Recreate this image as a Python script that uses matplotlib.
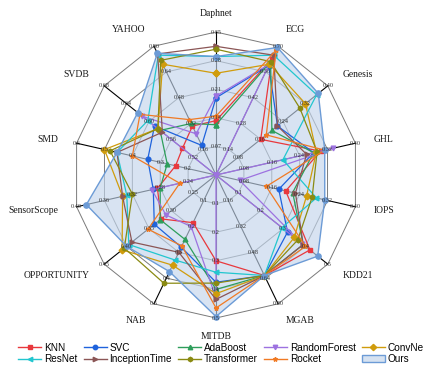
import numpy as np
import matplotlib

matplotlib.use("Agg")
import matplotlib.pyplot as plt  # noqa: E402
from matplotlib.lines import Line2D  # noqa: E402
from matplotlib.patches import Patch  # noqa: E402

# datasets clockwise from the top, each with its own radial scale
DATASETS = ["Daphnet", "ECG", "Genesis", "GHL", "IOPS", "KDD21", "MGAB",
            "MITDB", "NAB", "OPPORTUNITY", "SensorScope", "SMD", "SVDB", "YAHOO"]
AXIS_LO = [0, 0, 0, 0, 0, 0, 0, 0, 0, 0.20, 0.20, 0.10, 0.48, 0]
AXIS_HI = [0.35, 0.70, 0.40, 0.40, 0.40, 0.5, 0.80, 0.5, 0.5, 0.45, 0.40, 0.6, 0.68, 0.80]
TICK_DEC = [2, 2, 2, 2, 2, 1, 2, 1, 1, 2, 2, 1, 2, 2]

# scores per method, same order as DATASETS
KNN = [0.133, 0.630, 0.160, 0.300, 0.200, 0.420, 0.624, 0.300, 0.185, 0.323, 0.284, 0.245, 0.540, 0.304]
SVC = [0.189, 0.595, 0.220, 0.280, 0.180, 0.320, 0.624, 0.375, 0.280, 0.338, 0.290, 0.345, 0.590, 0.184]
ADABOOST = [0.123, 0.616, 0.200, 0.280, 0.220, 0.390, 0.624, 0.400, 0.250, 0.325, 0.280, 0.275, 0.580, 0.320]
RANDOMFOREST = [0.193, 0.602, 0.0, 0.336, 0.068, 0.385, 0.0, 0.430, 0.200, 0.312, 0.292, 0.10, 0.612, 0.256]
CONVNET = [0.249, 0.602, 0.320, 0.288, 0.260, 0.350, 0.624, 0.415, 0.350, 0.410, 0.334, 0.500, 0.584, 0.688]
RESNET = [0.290, 0.651, 0.360, 0.192, 0.288, 0.295, 0.624, 0.340, 0.330, 0.395, 0.328, 0.455, 0.602, 0.744]
INCEPTIONTIME = [0.315, 0.651, 0.220, 0.260, 0.228, 0.390, 0.624, 0.435, 0.300, 0.388, 0.334, 0.455, 0.576, 0.752]
TRANSFORMER = [0.308, 0.616, 0.300, 0.290, 0.276, 0.365, 0.624, 0.378, 0.420, 0.405, 0.320, 0.480, 0.584, 0.712]
ROCKET = [0.144, 0.679, 0.180, 0.312, 0.144, 0.400, 0.624, 0.465, 0.275, 0.352, 0.252, 0.400, 0.616, 0.344]
OURS = [0.290, 0.693, 0.366, 0.312, 0.312, 0.455, 0.624, 0.495, 0.375, 0.400, 0.386, 0.455, 0.620, 0.756]

METHODS = [
    ("KNN", KNN, "#e8383d", "s"),
    ("SVC", SVC, "#1f63dc", "o"),
    ("AdaBoost", ADABOOST, "#2e9e5b", "^"),
    ("RandomForest", RANDOMFOREST, "#9d72e0", "v"),
    ("ConvNet", CONVNET, "#d09c0c", "D"),
    ("ResNet", RESNET, "#22c6cf", "<"),
    ("InceptionTime", INCEPTIONTIME, "#8b5656", ">"),
    ("Transformer", TRANSFORMER, "#8a8a12", "h"),
    ("Rocket", ROCKET, "#f07a24", "*"),
]
OURS_EDGE = "#6c9bd6"
OURS_FILL = "#c3d5ec"


def norm(vals):
    lo = np.array(AXIS_LO)
    hi = np.array(AXIS_HI)
    return np.clip((np.array(vals) - lo) / (hi - lo), 0, 1)


def closed(a):
    return np.append(a, a[0])


fig = plt.figure(figsize=(4.23, 3.83), dpi=100)
ax = fig.add_axes([0.1726, 0.1697, 0.6761, 0.7467], projection="polar")
ax.set_theta_offset(np.pi / 2)
ax.set_theta_direction(-1)
ax.set_ylim(0, 1)
ax.grid(False)
ax.set_xticks([])
ax.set_yticks([])
ax.spines["polar"].set_visible(False)
ax.patch.set_visible(False)

n = len(DATASETS)
theta = np.arange(n) * 2 * np.pi / n
th_c = closed(theta)

# polygon rings and black spokes
for lev in (0.2, 0.4, 0.6, 0.8, 1.0):
    ax.plot(th_c, np.full(n + 1, lev), color="#7a7a7a", lw=0.7, zorder=1, clip_on=False)
for t in theta:
    ax.plot([t, t], [0, 1], color="black", lw=0.8, zorder=1, clip_on=False)

# per-axis tick labels
for i, t in enumerate(theta):
    ticks = np.linspace(AXIS_LO[i], AXIS_HI[i], 6)[1:]
    for k, tv in enumerate(ticks):
        ax.text(t, 0.2 * (k + 1), f"{tv:.{TICK_DEC[i]}f}", fontsize=4.5,
                family="Liberation Serif", color="#333333", ha="center", va="center", zorder=6)

# dataset names
for i, t in enumerate(theta):
    ang = np.degrees(np.pi / 2 - t) % 360
    if min(abs(ang - 90), abs(ang - 270)) < 5:
        ha = "center"
    elif 90 < ang < 270:
        ha = "right"
    else:
        ha = "left"
    ax.text(t, 1.13, DATASETS[i], fontsize=6.9, family="Liberation Serif",
            ha=ha, va="center", color="#1a1a1a")

# our method, filled
r_ours = closed(norm(OURS))
ax.fill(th_c, r_ours, color=OURS_FILL, alpha=0.65, zorder=2, lw=0)
ax.plot(th_c, r_ours, color=OURS_EDGE, lw=1.0, marker="o", ms=3.8, zorder=4, clip_on=False)

for name, vals, col, mk in METHODS:
    ax.plot(th_c, closed(norm(vals)), color=col, lw=0.9, marker=mk, ms=3.4,
            zorder=3, clip_on=False)

handles = {name: Line2D([0], [0], color=col, lw=1.0, marker=mk, ms=3.2, label=name)
           for name, _, col, mk in METHODS}
handles["Ours"] = Patch(facecolor="#d6e2f1", edgecolor=OURS_EDGE, lw=1.0, label="Ours")
order = ["KNN", "ResNet", "SVC", "InceptionTime", "AdaBoost", "Transformer",
         "RandomForest", "Rocket", "ConvNet", "Ours"]
fig.legend(handles=[handles[k] for k in order], loc="upper left",
           bbox_to_anchor=(0.043, 0.105), ncol=5, frameon=False,
           prop={"family": "Liberation Sans", "size": 7.2},
           handlelength=2.3, handletextpad=0.3, columnspacing=0.6, labelspacing=0.15,
           borderaxespad=0, borderpad=0)

fig.savefig("out.png", dpi=100)
